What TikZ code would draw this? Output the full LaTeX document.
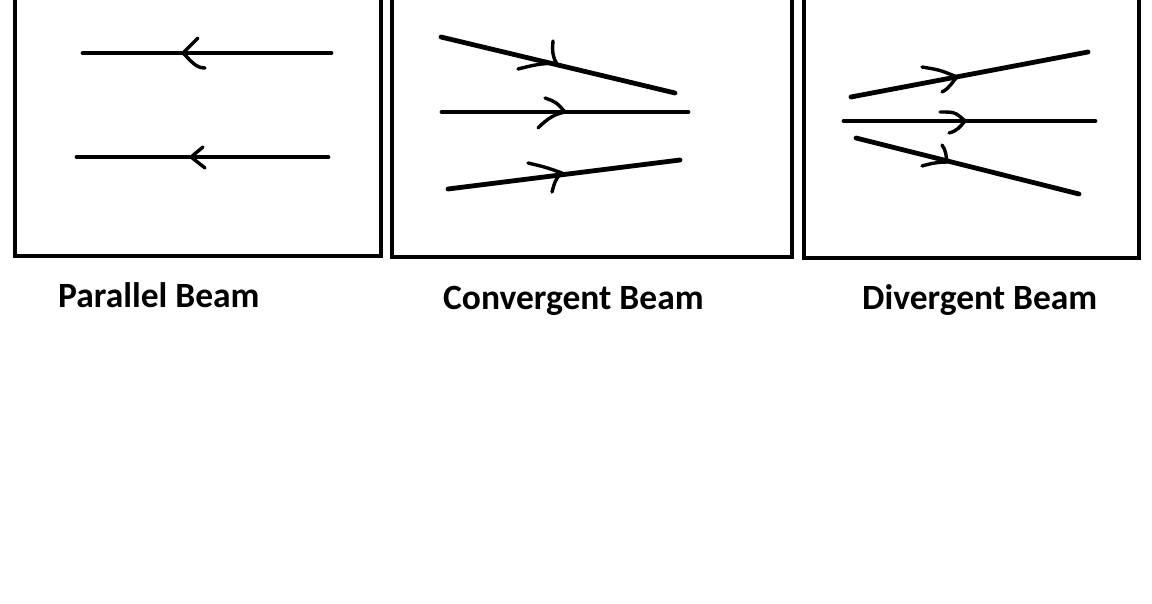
\documentclass[tikz,border=0pt]{standalone}
\usepackage{fontspec}
\setmainfont{Carlito}
\begin{document}
\begin{tikzpicture}[x=1pt,y=-1pt,
  frame/.style={line width=4.5pt,line join=miter,line cap=butt},
  ray/.style={line width=4.8pt,line cap=round},
  head/.style={line width=3.4pt,line cap=round,line join=round},
  lbl/.style={anchor=base west,inner sep=0pt,font=\fontsize{35.5}{42}\selectfont\bfseries}]
\useasboundingbox[fill=white] (0,0) rectangle (1152,604);
% frames
\draw[frame] (15,0) -- (15,256) -- (381,256) -- (381,0);
\draw[frame] (392,0) -- (392,257) -- (792,257) -- (792,0);
\draw[frame] (804,0) -- (804,258) -- (1139,258) -- (1139,0);
% parallel beam
\coordinate (p1a) at (83,53);  \coordinate (p1b) at (331,53);
\coordinate (p2a) at (77,157); \coordinate (p2b) at (328,157);
\draw[ray] (p1a) -- (p1b);
\draw[ray] (p2a) -- (p2b);
\draw[head] (198,38) -- (183,53) .. controls (192,62) and (196,68) .. (205,68);
\draw[head] (203,147) -- (191,157) .. controls (198,162) .. (205,168);
% convergent beam
\coordinate (c1a) at (441,37);  \coordinate (c1b) at (675,93);
\coordinate (c2a) at (442,112); \coordinate (c2b) at (688,112);
\coordinate (c3a) at (448,189); \coordinate (c3b) at (680,160);
\draw[ray] (c1a) -- (c1b);
\draw[ray] (c2a) -- (c2b);
\draw[ray] (c3a) -- (c3b);
\draw[head] (553,41) .. controls (552,52) and (553,58) .. (557,64);
\draw[head] (518,69) .. controls (530,66) and (545,62) .. (557,64);
\draw[head] (545,98) .. controls (556,102) .. (565,112);
\draw[head] (538,128) .. controls (548,118) and (555,114) .. (565,112);
\draw[head] (528,163) .. controls (545,167) .. (562,173);
\draw[head] (552,192) .. controls (554,184) and (556,177) .. (562,173);
% divergent beam
\coordinate (d1a) at (851,97);  \coordinate (d1b) at (1088,52);
\coordinate (d2a) at (844,121); \coordinate (d2b) at (1095,121);
\coordinate (d3a) at (856,138); \coordinate (d3b) at (1079,194);
\draw[ray] (d1a) -- (d1b);
\draw[ray] (d2a) -- (d2b);
\draw[ray] (d3a) -- (d3b);
\draw[head] (922,67) .. controls (940,70) .. (957,77);
\draw[head] (942,92) .. controls (950,88) and (952,82) .. (957,77);
\draw[head] (940,112) .. controls (955,112) .. (965,121);
\draw[head] (949,133) .. controls (957,131) and (960,127) .. (965,121);
\draw[head] (942,145) .. controls (946,150) and (946,156) .. (947,162);
\draw[head] (922,166) .. controls (932,163) and (940,162) .. (947,162);
% labels
\node[lbl] (lp) at (58,308) {Parallel Beam};
\node[lbl] (lc) at (443,309) {Convergent Beam};
\node[lbl] (ld) at (862,309) {Divergent Beam};
\end{tikzpicture}
\end{document}
